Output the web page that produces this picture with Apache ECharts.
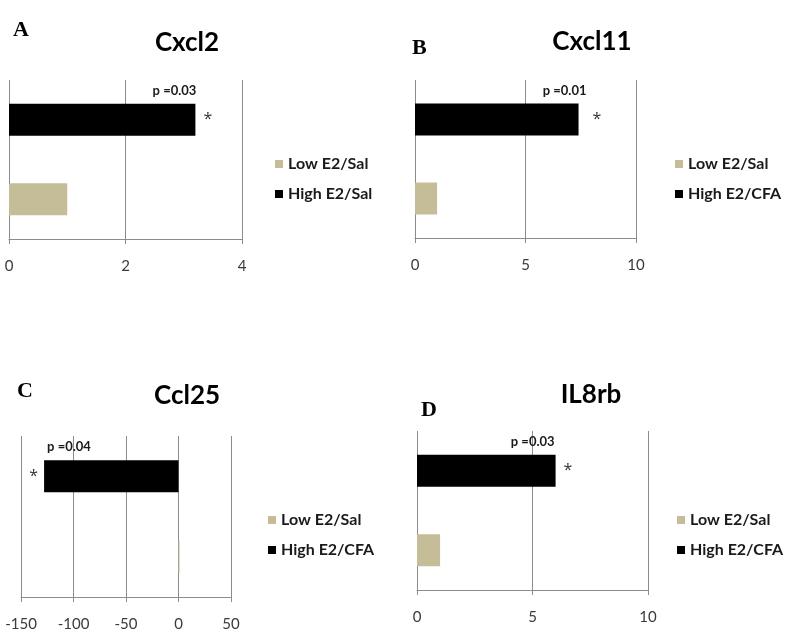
<!DOCTYPE html>
<html>
<head>
<meta charset="utf-8">
<script src="https://cdn.jsdelivr.net/npm/echarts@6/dist/echarts.min.js"></script>
<style>
    html, body { margin: 0; padding: 0; background: #fff; }
    #chart { width: 800px; height: 635px; }
</style>
</head>
<body>
<div id="chart"></div>
<script>
// data
var titles = ['Cxcl2', 'Cxcl11', 'Ccl25', 'IL8rb'];
var letters = ['A', 'B', 'C', 'D'];
var categories = ['Low', 'High'];
var lowName = 'Low E2/Sal';
var highNames = ['High E2/Sal', 'High E2/CFA', 'High E2/CFA', 'High E2/CFA'];
var lowValues = [1.0, 1.0, 1.0, 1.0];
var highValues = [3.2, 7.4, -128, 6.0];
var pLabels = ['p =0.03', 'p =0.01', 'p =0.04', 'p =0.03'];
var axisMin = [0, 0, -150, 0];
var axisMax = [4, 10, 50, 10];
var axisStep = [2, 5, 50, 5];

// layout of the four panels
var grids = [
    { left: 9, top: 80, width: 233, height: 159 },
    { left: 415, top: 80, width: 221, height: 158 },
    { left: 21, top: 436, width: 210, height: 161 },
    { left: 417, top: 431, width: 231, height: 159 }
];
var legendPos = [[270, 151], [670, 151], [263, 507], [672, 507]];
var titlePos = [[187, 43], [592, 42], [187, 396], [591, 395]];
var letterPos = [[13, 30], [412, 48], [17, 391], [421, 410]];
var starSide = ['right', 'right', 'left', 'right'];
var starDist = [8, 14, 6, 8];
var pOffset = [[1, -29, 'right'], [8, -29, 'right'], [3, -29, 'left'], [-1, -29, 'right']];

var tan = '#c4bd97';
var gridLine = '#8c8c8c';
var font = 'Lato, "Open Sans", sans-serif';

var option = {
    animation: false,
    backgroundColor: '#fff',
    grid: [],
    xAxis: [],
    yAxis: [],
    legend: [],
    series: [],
    graphic: []
};

for (var i = 0; i < 4; i++) {
    option.grid.push(grids[i]);
    option.xAxis.push({
        type: 'value',
        gridIndex: i,
        min: axisMin[i],
        max: axisMax[i],
        interval: axisStep[i],
        axisLine: { show: true, onZero: false, lineStyle: { color: gridLine, width: 1 } },
        axisTick: { show: true, length: 5, lineStyle: { color: gridLine } },
        axisLabel: { color: '#3a3a3a', fontSize: 15, fontFamily: font, margin: 20 },
        splitLine: { show: true, lineStyle: { color: gridLine, width: 1 } }
    });
    option.yAxis.push({
        type: 'category',
        gridIndex: i,
        data: categories,
        axisLine: { show: false },
        axisTick: { show: false },
        axisLabel: { show: false },
        splitLine: { show: false }
    });
    option.legend.push({
        orient: 'vertical',
        left: legendPos[i][0],
        top: legendPos[i][1],
        itemWidth: 8,
        itemHeight: 8,
        itemGap: 14,
        icon: 'rect',
        data: [lowName, highNames[i]],
        textStyle: { color: '#1a1a1a', fontSize: 16, fontWeight: 'bold', fontFamily: font }
    });
    // Low bar (bottom)
    option.series.push({
        name: lowName,
        type: 'bar',
        xAxisIndex: i,
        yAxisIndex: i,
        barWidth: 32,
        barGap: '-100%',
        itemStyle: { color: tan },
        data: [lowValues[i], '-']
    });
    // High bar (top) with star and p value
    option.series.push({
        name: highNames[i],
        type: 'bar',
        xAxisIndex: i,
        yAxisIndex: i,
        barWidth: 32,
        barGap: '-100%',
        itemStyle: { color: '#000' },
        label: {
            show: true,
            position: starSide[i],
            distance: starDist[i],
            formatter: '*',
            color: '#333',
            fontSize: 16,
            fontFamily: '"Open Sans", sans-serif'
        },
        markPoint: {
            symbol: 'circle',
            symbolSize: 0,
            silent: true,
            data: [{
                coord: [highValues[i], 1],
                label: {
                    show: true,
                    position: [pOffset[i][0], pOffset[i][1]],
                    align: pOffset[i][2],
                    verticalAlign: 'middle',
                    formatter: pLabels[i],
                    color: '#1a1a1a',
                    fontSize: 13,
                    fontWeight: 'bold',
                    fontFamily: font
                }
            }]
        },
        data: ['-', highValues[i]]
    });
    // panel title and letter
    option.graphic.push({
        type: 'text',
        x: titlePos[i][0],
        y: titlePos[i][1],
        style: {
            text: titles[i],
            fill: '#000',
            font: 'bold 26px ' + font,
            align: 'center',
            verticalAlign: 'middle'
        }
    });
    option.graphic.push({
        type: 'text',
        x: letterPos[i][0],
        y: letterPos[i][1],
        style: {
            text: letters[i],
            fill: '#000',
            font: 'bold 22px "Liberation Serif", serif',
            align: 'left',
            verticalAlign: 'middle'
        }
    });
}

var myChart = echarts.init(document.getElementById('chart'), null, { renderer: 'canvas' });
myChart.setOption(option);
</script>
</body>
</html>
